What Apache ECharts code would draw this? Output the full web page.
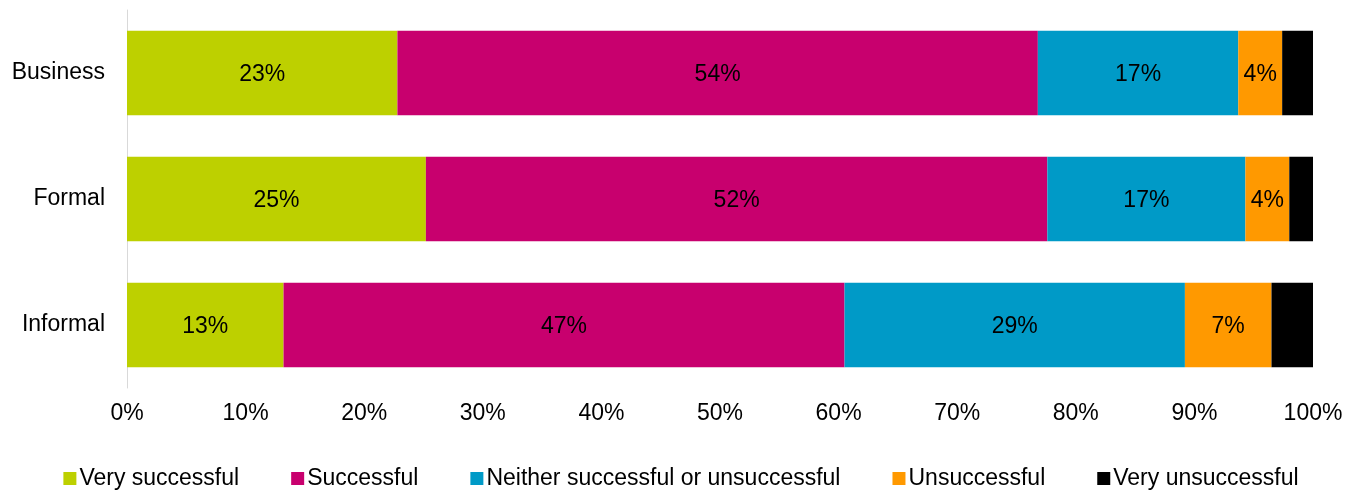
<!DOCTYPE html>
<html>
<head>
<meta charset="utf-8">
<script src="https://cdn.jsdelivr.net/npm/echarts@6/dist/echarts.min.js"></script>
<style>
html, body { margin: 0; padding: 0; background: #fff; }
#chart { width: 1362px; height: 492px; }
</style>
</head>
<body>
<div id="chart"></div>
<script>
// categories listed bottom to top (category axis on y grows upward)
const categories = ["Informal", "Formal", "Business"]
const verySuccessful = [13.2, 25.2, 22.8]
const successful = [47.3, 52.4, 54.0]
const neither = [28.7, 16.7, 16.9]
const unsuccessful = [7.3, 3.7, 3.7]
const veryUnsuccessful = [3.5, 2.0, 2.6]
const xTicks = [0, 10, 20, 30, 40, 50, 60, 70, 80, 90, 100]

const seriesDefs = [
	{ name: "Very successful", data: verySuccessful, color: "#bdd000", label: true },
	{ name: "Successful", data: successful, color: "#c8006e", label: true },
	{ name: "Neither successful or unsuccessful", data: neither, color: "#009ac7", label: true },
	{ name: "Unsuccessful", data: unsuccessful, color: "#ff9900", label: true },
	{ name: "Very unsuccessful", data: veryUnsuccessful, color: "#000000", label: false }
]

const FS = 23

const chart = echarts.init(document.getElementById("chart"))

const option = {
	animation: false,
	textStyle: { fontFamily: "Liberation Sans, Arial, sans-serif" },
	grid: {
		left: 127,
		right: 49,
		top: 10,
		bottom: 104
	},
	legend: {
		top: 462,
		left: "center",
		itemWidth: 13,
		itemHeight: 13,
		itemGap: 52,
		icon: "rect",
		textStyle: {
			fontSize: FS,
			color: "#000",
			padding: [0, 0, 0, -2]
		},
		data: seriesDefs.map(s => s.name)
	},
	xAxis: {
		type: "value",
		min: xTicks[0],
		max: xTicks[xTicks.length - 1],
		interval: 10,
		splitLine: { show: false },
		axisLine: { show: false },
		axisTick: { show: false },
		axisLabel: {
			fontSize: FS,
			color: "#000",
			margin: 14,
			formatter: v => v + "%"
		}
	},
	yAxis: {
		type: "category",
		data: categories,
		axisLine: { show: true, lineStyle: { color: "#d9d9d9", width: 1 } },
		axisTick: { show: false },
		axisLabel: {
			fontSize: FS,
			color: "#000",
			margin: 22,
			padding: [4, 0, 0, 0]
		}
	},
	series: seriesDefs.map(s => ({
		name: s.name,
		type: "bar",
		stack: "Total",
		barWidth: "67%",
		itemStyle: { color: s.color },
		label: {
			show: s.label,
			position: "inside",
			color: "#000",
			fontSize: FS,
			offset: [0, 2],
			formatter: p => Math.round(p.value) + "%"
		},
		data: s.data
	}))
}
chart.setOption(option)
</script>
</body>
</html>
